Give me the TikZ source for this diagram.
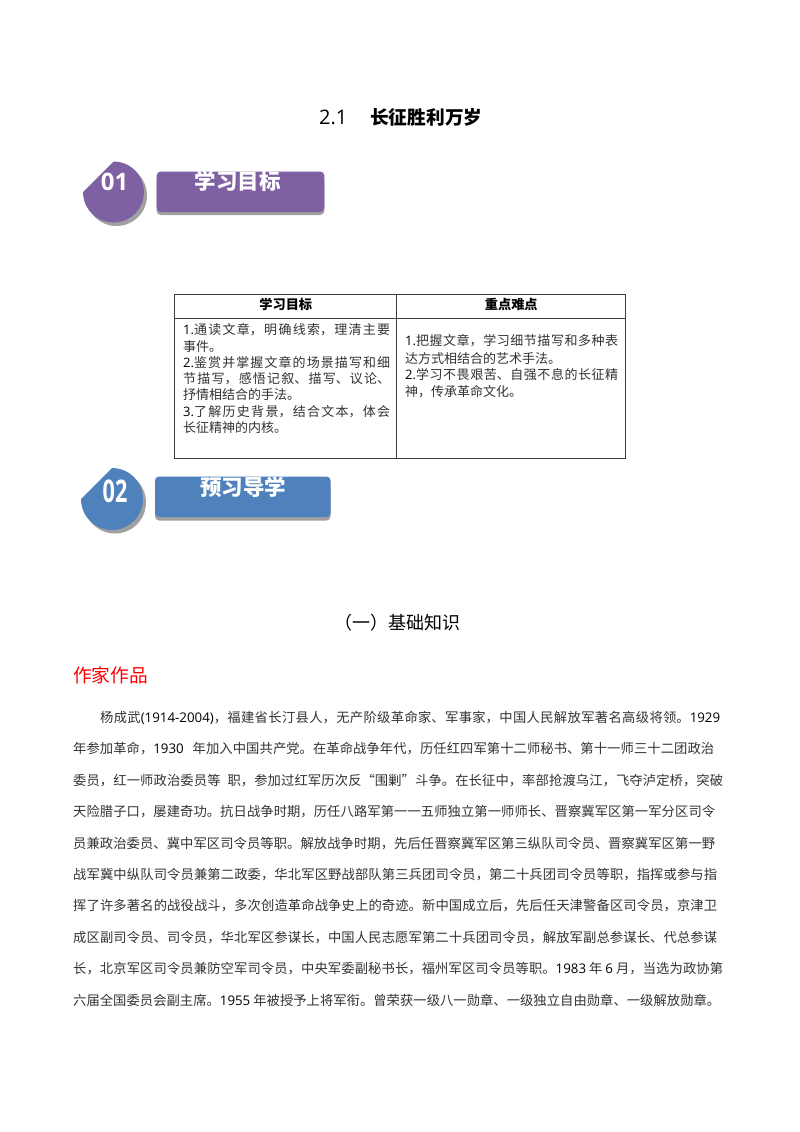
\documentclass[tikz,border=0pt]{standalone}
\usepackage{fontspec}
\setmainfont{Noto Sans CJK SC}
\newfontfamily\latf{Open Sans}
\XeTeXlinebreaklocale "zh"
\XeTeXlinebreakskip=0pt plus 6pt minus 2pt
\newcommand{\lat}[1]{{\latf\color{black}#1}}
\definecolor{bodygrey}{HTML}{333333}
\definecolor{purplebar}{HTML}{7F60A2}
\definecolor{bluebar}{HTML}{4F81BD}
\definecolor{shadowgrey}{HTML}{A0A0A0}
\definecolor{rulegrey}{HTML}{3C3C3C}
\tikzset{
  bodyline/.style={anchor=base west,inner sep=0pt,text=bodygrey,font=\fontsize{13.3}{13.3}\selectfont},
  cellline/.style={anchor=base west,inner sep=0pt,text=bodygrey,font=\fontsize{13}{13}\selectfont},
  headtext/.style={anchor=center,inner sep=0pt,text=black,font=\fontsize{13.2}{13.2}\selectfont\bfseries},
  bartext/.style={anchor=center,inner sep=0pt,text=white,font=\fontsize{21.5}{21.5}\selectfont\bfseries},
  barbox/.style={rounded corners=4pt,draw=none},
  tablecell/.style={draw=rulegrey,line width=0.9pt,fill=none}
}
\newcommand{\fitline}[2]{\parbox[b]{#1pt}{\tolerance=10000\hbadness=10000\parindent=0pt\parfillskip=0pt\relax #2}}
\newcommand{\bline}[5]{\node[bodyline] (#1) at (#2,#3) {\fitline{#4}{#5}};}
\newcommand{\cellln}[5]{\node[cellline] (#1) at (#2,#3) {\fitline{#4}{#5}};}
\begin{document}
\begin{tikzpicture}[x=1pt,y=-1pt]
\useasboundingbox (0,0) rectangle (800,1132);
\fill[white] (0,0) rectangle (800,1132);
% title
\node[anchor=base west,inner sep=0pt,font=\fontsize{20}{20}\selectfont\latf] (t1) at (319,124) {2.1};
\node[anchor=base west,inner sep=0pt,font=\fontsize{18.7}{18.7}\selectfont\bfseries] (t2) at (370,124) {长征胜利万岁};
% badge 1
\fill[shadowgrey] (116.5,165) arc[start angle=90,end angle=-180,radius=30.5pt] -- cycle;
\fill[purplebar] (113.5,161.5) arc[start angle=90,end angle=-180,radius=30.5pt] -- cycle;
\node[inner sep=0pt,text=white,font=\fontsize{24}{24}\selectfont\latf\bfseries] (n1) at (114.5,181.5) {01};
\fill[shadowgrey,barbox] (156.7,178) rectangle (324.3,215);
\fill[purplebar,barbox] (156.7,171.5) rectangle (324.3,212);
\node[bartext] (b1) at (237.5,181) {学习目标};
% table
\node[tablecell,anchor=north west,minimum width=222pt,minimum height=24pt,inner sep=0pt] (ha) at (174.3,294) {};
\node[tablecell,anchor=north west,minimum width=229pt,minimum height=24pt,inner sep=0pt] (hb) at (396.3,294) {};
\node[tablecell,anchor=north west,minimum width=222pt,minimum height=140pt,inner sep=0pt] (ca) at (174.3,318) {};
\node[tablecell,anchor=north west,minimum width=229pt,minimum height=140pt,inner sep=0pt] (cb) at (396.3,318) {};
\node[headtext,yshift=1.6pt] at (ha.center) {学习目标};
\node[headtext,yshift=1.6pt] at (hb.center) {重点难点};
\cellln{a1}{183}{334}{207}{\lat{1.}通读文章，明确线索，理清主要}
\node[cellline] (a2) at (183,351) {事件。};
\cellln{a3}{183}{367}{207}{\lat{2.}鉴赏并掌握文章的场景描写和细}
\cellln{a4}{183}{383}{207}{节描写，感悟记叙、描写、议论、}
\node[cellline] (a5) at (183,399) {抒情相结合的手法。};
\cellln{a6}{183}{416}{207}{\lat{3.}了解历史背景，结合文本，体会}
\node[cellline] (a7) at (183,432) {长征精神的内核。};
\cellln{c1}{405}{345}{213}{\lat{1.}把握文章，学习细节描写和多种表}
\node[cellline] (c2) at (405,363) {达方式相结合的艺术手法。};
\cellln{c3}{405}{379}{213}{\lat{2.}学习不畏艰苦、自强不息的长征精}
\node[cellline] (c4) at (405,396) {神，传承革命文化。};
% badge 2
\fill[shadowgrey] (115,471.5) arc[start angle=90,end angle=-180,radius=31pt] -- cycle;
\fill[bluebar] (112,468) arc[start angle=90,end angle=-180,radius=31pt] -- cycle;
\node[inner sep=0pt,text=white,font=\fontsize{24}{24}\selectfont\latf\bfseries,xscale=0.9,yscale=1.3] (n2) at (115,491) {02};
\fill[shadowgrey,barbox] (155,483) rectangle (330.5,520.5);
\fill[bluebar,barbox] (155,476.5) rectangle (330.5,517);
\node[bartext] (b2) at (243,487) {预习导学};
% headings
\node[anchor=base west,inner sep=0pt,font=\fontsize{18}{18}\selectfont] (h1) at (334,629) {（一）基础知识};
\node[anchor=base west,inner sep=0pt,text=red,font=\fontsize{18.7}{18.7}\selectfont] (h2) at (73,682) {作家作品};
% body
\bline{l1}{100}{722}{620}{杨成武\lat{(1914-2004)}，福建省长汀县人，无产阶级革命家、军事家，中国人民解放军著名高级将领。\lat{1929}}
\bline{l2}{73}{753.5}{641}{年参加革命，\lat{1930}\hspace{9pt}年加入中国共产党。在革命战争年代，历任红四军第十二师秘书、第十一师三十二团政治}
\bline{l3}{73}{785}{650}{委员，红一师政治委员等\hspace{7pt}职，参加过红军历次反“围剿”斗争。在长征中，率部抢渡乌江，飞夺泸定桥，突破}
\bline{l4}{73}{816.5}{642}{天险腊子口，屡建奇功。抗日战争时期，历任八路军第一一五师独立第一师师长、晋察冀军区第一军分区司令}
\bline{l5}{73}{848}{642}{员兼政治委员、冀中军区司令员等职。解放战争时期，先后任晋察冀军区第三纵队司令员、晋察冀军区第一野}
\bline{l6}{73}{879}{644}{战军冀中纵队司令员兼第二政委，华北军区野战部队第三兵团司令员，第二十兵团司令员等职，指挥或参与指}
\bline{l7}{73}{910.5}{644}{挥了许多著名的战役战斗，多次创造革命战争史上的奇迹。新中国成立后，先后任天津警备区司令员，京津卫}
\bline{l8}{73}{942}{644}{成区副司令员、司令员，华北军区参谋长，中国人民志愿军第二十兵团司令员，解放军副总参谋长、代总参谋}
\bline{l9}{73}{973.5}{650}{长，北京军区司令员兼防空军司令员，中央军委副秘书长，福州军区司令员等职。\lat{1983} 年 \lat{6} 月，当选为政协第}
\bline{l10}{73}{1005}{647}{六届全国委员会副主席。\lat{1955} 年被授予上将军衔。曾荣获一级八一勋章、一级独立自由勋章、一级解放勋章。}
\end{tikzpicture}
\end{document}
